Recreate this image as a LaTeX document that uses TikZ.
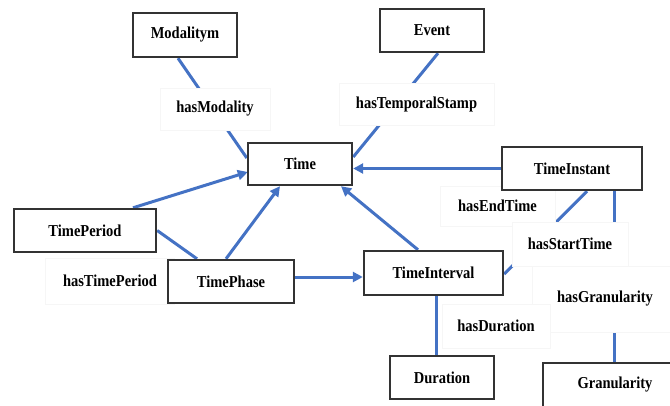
\documentclass[tikz,border=0pt]{standalone}
\usepackage{fontspec}
\setmainfont{Liberation Serif}
\usepackage{graphicx}
\usetikzlibrary{arrows.meta,calc,backgrounds}

\definecolor{linkblue}{HTML}{4472C4}
\definecolor{boxline}{HTML}{333333}
\definecolor{tagline}{HTML}{F6F6F6}

% slightly tall bold lettering
\newcommand{\tall}[1]{\scalebox{1}[1.15]{\bfseries #1}}

\tikzset{
  cls/.style={draw=boxline, line width=2.4pt, fill=white, inner sep=0pt,
              font=\fontsize{14.5}{16}\selectfont},
  rel/.style={draw=tagline, line width=0.6pt, fill=white, inner sep=0pt,
              font=\fontsize{14.5}{16}\selectfont},
  link/.style={draw=linkblue, line width=3pt},
  arr/.style={link, -{Triangle[length=10pt,width=10pt]}}
}

\begin{document}
\begin{tikzpicture}[x=1pt,y=-1pt]
\useasboundingbox (0,0) rectangle (670,405);
\clip (0,0) rectangle (670,405);

% relation labels (white patches over the connectors)
\node[rel, minimum width=110, minimum height=42] (lmod) at (215,109) {\tall{hasModality}};
\node[rel, minimum width=155, minimum height=42] (lstamp) at (416.5,104) {\tall{hasTemporalStamp}};
\node[rel, minimum width=115, minimum height=40] (lend) at (497.5,206) {\tall{hasEndTime}};
\node[rel, minimum width=116, minimum height=44] (lstart) at (570,244) {\tall{hasStartTime}};
\node[rel, minimum width=146, minimum height=66] (lgran) at (605,299) {\tall{hasGranularity}};
\node[rel, minimum width=108, minimum height=44] (ldur) at (496,326) {\tall{hasDuration}};
\node[rel, minimum width=129, minimum height=46] (lper) at (110,281) {\tall{hasTimePeriod}};

% classes
\node[cls, minimum width=104, minimum height=44] (mod) at (185,35) {\tall{Modalitym}};
\node[cls, minimum width=104, minimum height=43] (evt) at (432,30.5) {\tall{Event}};
\node[cls, minimum width=104, minimum height=42] (time) at (300,164) {\tall{Time}};
\node[cls, minimum width=140, minimum height=43] (inst) at (572,168.5) {\tall{TimeInstant}};
\node[cls, minimum width=142, minimum height=43] (per) at (85,230.5) {\tall{TimePeriod}};
\node[cls, minimum width=126, minimum height=43] (phase) at (231,281.5) {\tall{TimePhase}};
\node[cls, minimum width=139, minimum height=44] (intv) at (433.5,273) {\tall{TimeInterval}};
\node[cls, minimum width=104, minimum height=43] (dur) at (442,377.5) {\tall{Duration}};
\node[cls, minimum width=144, minimum height=44] (gran) at (615,385) {\tall{Granularity}};

% connectors, kept behind the boxes and labels
\begin{pgfonlayer}{background}
  \draw[link] ($(mod.south)+(-7,0)$) -- ($(time.west)+(0,-6)$);
  \draw[link] ($(evt.south)+(6,0)$) -- ($(time.east)+(0,-7)$);
  \draw[arr] (inst.west) -- (inst.west -| time.east);
  \draw[arr] ($(per.north)+(48,0)$) -- ($(time.west)+(1,8)$);
  \draw[arr] ($(phase.north)+(-5,0)$) -- ($(time.south)+(-20,0)$);
  \draw[link] (per.east) -- ($(phase.north)+(-34,0)$);
  \coordinate (phout) at ($(phase.east)+(0,-4.5)$);
  \draw[arr] (phout) -- (phout -| intv.west);
  \draw[arr] ($(intv.north)+(-15.5,0)$) -- ($(time.south)+(41,0)$);
  \draw[link] ($(inst.south)+(15,0)$) -- ($(intv.east)+(0,1)$);
  \coordinate (gtop) at ($(inst.south)+(42,0)$);
  \draw[link] (gtop) -- (gtop |- gran.north);
  \coordinate (dtop) at ($(intv.south)+(3,0)$);
  \draw[link] (dtop) -- (dtop |- dur.north);
\end{pgfonlayer}
\end{tikzpicture}
\end{document}
